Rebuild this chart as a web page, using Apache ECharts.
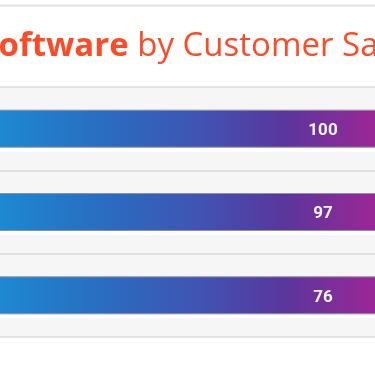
<!DOCTYPE html>
<html>
<head>
<meta charset="utf-8">
<script src="https://cdn.jsdelivr.net/npm/echarts@6/dist/echarts.min.js"></script>
<style>
html,body{margin:0;padding:0;background:#fff;}
#chart{width:375px;height:366px;}
</style>
</head>
<body>
<div id="chart"></div>
<script>
const categories = ['Rank 1', 'Rank 2', 'Rank 3'];
const scores = [100, 97, 76];
const titleBold = 'oftware';
const titleRegular = 'by Customer Sa';

const chart = echarts.init(document.getElementById('chart'), null, {renderer: 'canvas'});
const gradient = new echarts.graphic.LinearGradient(0, 0, 375, 0, [
  {offset: 0, color: '#1d88d0'},
  {offset: 0.28, color: '#2a6cc0'},
  {offset: 0.52, color: '#3f55b4'},
  {offset: 0.76, color: '#5a369c'},
  {offset: 1, color: '#9b2796'}
], true);

const option = {
  animation: false,
  backgroundColor: '#ffffff',
  title: {
    text: '{b|' + titleBold + '} {r|' + titleRegular + '}',
    left: -1.5,
    top: 30,
    padding: 0,
    textStyle: {
      fontFamily: 'Open Sans', fontSize: 33, color: '#fd4a27',
      rich: {
        b: {fontFamily: 'Open Sans', fontWeight: 'bold', fontSize: 33, color: '#fd4a27'},
        r: {fontFamily: 'Open Sans', fontWeight: 'normal', fontSize: 33, color: '#fd4a27'}
      }
    }
  },
  graphic: [
    {type: 'line', shape: {x1: 0, y1: 5.5, x2: 375, y2: 5.5}, style: {stroke: '#e2e2e2', lineWidth: 2}, silent: true}
  ],
  grid: {left: -10, top: 87, width: 600, height: 250, outerBoundsMode: 'none', containLabel: false},
  xAxis: {type: 'value', min: 0, max: 100, show: false},
  yAxis: {
    type: 'category', data: categories, inverse: true,
    axisLine: {show: false}, axisTick: {show: false}, axisLabel: {show: false},
    splitArea: {show: true, areaStyle: {color: ['#f6f6f6']}},
    splitLine: {show: true, lineStyle: {color: '#dadada', width: 1.5}}
  },
  series: [
    {
      type: 'bar', data: scores, barWidth: 42, barGap: '-100%', silent: true,
      itemStyle: {color: '#ffffff'}
    },
    {
      type: 'bar', data: scores, barWidth: 38, barGap: '-100%',
      itemStyle: {color: gradient, borderColor: '#8e8e9c', borderWidth: 1},
      label: {
        show: true, position: [333, '50%'], offset: [0, 2], align: 'center', verticalAlign: 'middle',
        color: '#f5f5f5', fontFamily: 'Roboto', fontWeight: 'bold', fontSize: 17
      }
    }
  ]
};
chart.setOption(option);
</script>
</body>
</html>
